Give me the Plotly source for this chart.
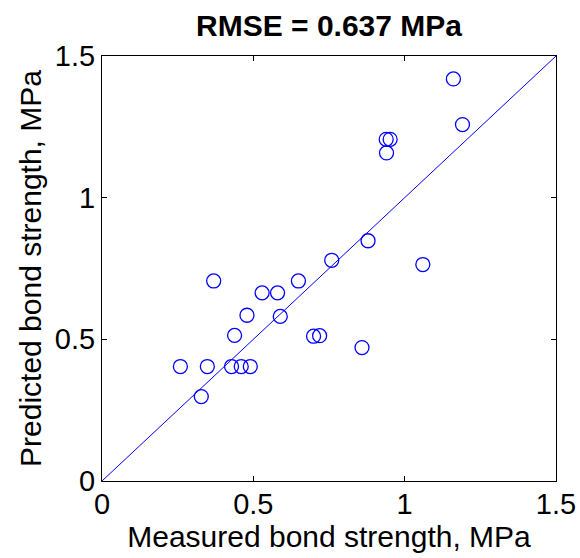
import plotly.graph_objects as go

# Measured vs predicted bond strength (MPa)
measured = [1.161, 1.191, 0.939, 0.952, 0.940, 0.879, 1.060, 0.759, 0.649, 0.369,
            0.529, 0.580, 0.589, 0.479, 0.438, 0.699, 0.719, 0.859, 0.259, 0.348,
            0.428, 0.460, 0.490, 0.328]
predicted = [1.419, 1.258, 1.206, 1.206, 1.158, 0.848, 0.764, 0.779, 0.706, 0.706,
             0.664, 0.664, 0.581, 0.585, 0.514, 0.511, 0.513, 0.471, 0.404, 0.404,
             0.404, 0.404, 0.404, 0.298]
ref_line = [0, 1.5]
tick_vals = [0, 0.5, 1, 1.5]
tick_text = ["0", "0.5", "1", "1.5"]

blue = "rgb(0,0,255)"
font = "Liberation Sans, Arial, sans-serif"
tick_size = 29
label_size = 30

fig = go.Figure()
fig.add_trace(go.Scatter(x=ref_line, y=ref_line, mode="lines",
                         line=dict(color=blue, width=1), hoverinfo="skip"))
fig.add_trace(go.Scatter(x=measured, y=predicted, mode="markers",
                         marker=dict(symbol="circle-open", size=14,
                                     color=blue, line=dict(width=1.3, color=blue))))

axis_common = dict(range=[0, 1.5], tickvals=tick_vals, ticktext=tick_text,
                   ticks="inside", ticklen=5, tickcolor="black",
                   showline=True, linecolor="black", linewidth=1, mirror="ticks",
                   showgrid=False, zeroline=False, automargin=False,
                   tickfont=dict(family=font, size=tick_size, color="black"))

fig.update_layout(
    width=580, height=558,
    margin=dict(l=102, r=24, t=56, b=77),
    paper_bgcolor="white", plot_bgcolor="white",
    showlegend=False,
    title=dict(text="<b>RMSE = 0.637 MPa</b>", xref="paper", x=0.5, xanchor="center",
               y=0.955, yanchor="middle",
               font=dict(family=font, size=label_size, color="black")),
    xaxis=dict(**axis_common, ticklabelstandoff=-3,
               title=dict(text="Measured bond strength, MPa", standoff=0,
                          font=dict(family=font, size=label_size, color="black"))),
    yaxis=dict(**axis_common,
               title=dict(text="Predicted bond strength, MPa", standoff=4,
                          font=dict(family=font, size=label_size, color="black"))),
)

fig.write_html("out.html")
